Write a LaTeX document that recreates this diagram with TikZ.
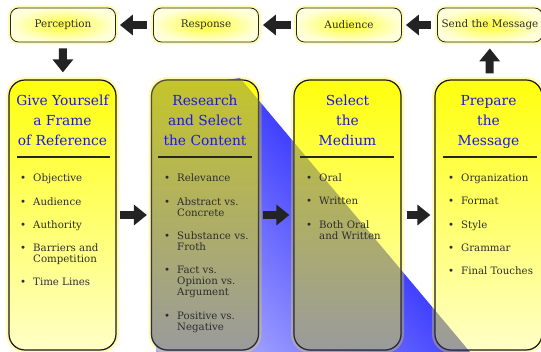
\documentclass[tikz,border=0pt]{standalone}
\usepackage{fontspec}
\setmainfont{DejaVu Serif}
\usetikzlibrary{positioning, arrows.meta}
\definecolor{headblue}{RGB}{25,25,235}
\definecolor{itemgray}{RGB}{45,45,45}
\definecolor{arrowgray}{RGB}{35,35,35}
\definecolor{dimtop}{RGB}{140,140,75}
\definecolor{dimbottom}{RGB}{55,55,115}
\tikzset{>=latex}

\tikzset{
  phase/.style={draw=black!85, line width=0.8pt, rounded corners=8pt,
    minimum width=105pt, minimum height=34pt, inner sep=0pt,
    inner color=yellow!80, outer color=yellow!15, text=itemgray,
    font=\fontsize{10.4}{12}\selectfont,
    preaction={draw=yellow, line width=5pt, draw opacity=0.3}},
  stage/.style={draw=black!90, line width=1.2pt, rounded corners=16pt,
    minimum width=107pt, minimum height=270pt, inner sep=0pt,
    top color=yellow!95!white, bottom color=yellow!22!white,
    preaction={draw=yellow, line width=6pt, draw opacity=0.3}},
  head/.style={text=headblue, align=center, inner sep=0pt, anchor=north,
    font=\fontsize{13.8}{20}\selectfont},
  items/.style={text=itemgray, inner sep=0pt, anchor=base west,
    font=\fontsize{10.2}{11}\selectfont},
  rule/.style={line width=2.6pt, black!85},
  band/.style={shading=axis, top color=blue, middle color=blue,
    bottom color=blue!35, shading angle=-50},
  dim/.style={top color=dimtop, bottom color=dimbottom, opacity=0.5},
  blockarrow/.style={arrowgray, line width=8pt,
    -{Triangle[length=13pt, width=20pt]}}
}

\begin{document}
\begin{tikzpicture}[x=1pt,y=-1pt]
\useasboundingbox (0,0) rectangle (541,352);

% the blue band behind the second and third stage
\shade[band] (156,90) -- (240,78) -- (470,352) -- (156,352) -- cycle;

% top row
\node[phase] (percep) at (63,25) {Perception};
\node[phase] (resp) at (206,25) {Response};
\node[phase] (aud) at (349,25) {Audience};
\node[phase] (send) at (490,25) {Send the Message};

% the four stages
\node[stage] (frame) at (62.5,215) {};
\node[stage] (content) at (205,215) {};
\node[stage] (medium) at (347.5,215) {};
\node[stage] (prep) at (488.5,215) {};

% band seen through the stages
\begin{scope}
  \clip[rounded corners=16pt] (content.north west) rectangle (content.south east)
    (medium.north west) rectangle (medium.south east)
    (prep.north west) rectangle (prep.south east);
  \shade[dim] (150,78) -- (240,78) -- (470,352) -- (150,352) -- cycle;
\end{scope}

% headings
\node[head] (h1) at (62.5,95) {Give Yourself\\a Frame\\of Reference};
\node[head] (h2) at (205,95) {Research\\and Select\\the Content};
\node[head] (h3) at (347.5,95) {Select\\the\\Medium};
\node[head] (h4) at (488.5,95) {Prepare\\the\\Message};

\draw[rule] (17,157) -- (110,157);
\draw[rule] (158,157) -- (252,157);
\draw[rule] (300,157) -- (394,157);
\draw[rule] (443,157) -- (537,157);

% bullet lists
\node[items] (l1) at (20,182) {\begin{tabular}[t]{@{}l@{\hspace{7pt}}l@{}}
\textbullet & Objective\\[12pt]
\textbullet & Audience\\[12pt]
\textbullet & Authority\\[12pt]
\textbullet & Barriers and\\
            & Competition\\[12pt]
\textbullet & Time Lines
\end{tabular}};
\node[items] (l2) at (164,182) {\begin{tabular}[t]{@{}l@{\hspace{7pt}}l@{}}
\textbullet & Relevance\\[12pt]
\textbullet & Abstract vs.\\
            & Concrete\\[12.5pt]
\textbullet & Substance vs.\\
            & Froth\\[12pt]
\textbullet & Fact vs.\\
            & Opinion vs.\\
            & Argument\\[12.5pt]
\textbullet & Positive vs.\\
            & Negative
\end{tabular}};
\node[items] (l3) at (306,182) {\begin{tabular}[t]{@{}l@{\hspace{7pt}}l@{}}
\textbullet & Oral\\[12pt]
\textbullet & Written\\[12pt]
\textbullet & Both Oral\\
            & and Written
\end{tabular}};
\node[items] (l4) at (448,182) {\begin{tabular}[t]{@{}l@{\hspace{7pt}}l@{}}
\textbullet & Organization\\[12pt]
\textbullet & Format\\[12pt]
\textbullet & Style\\[12pt]
\textbullet & Grammar\\[12pt]
\textbullet & Final Touches
\end{tabular}};

% arrows
\draw[blockarrow, shorten <=6pt, shorten >=4pt] (resp) -- (percep);
\draw[blockarrow, shorten <=5pt, shorten >=4pt] (aud) -- (resp);
\draw[blockarrow, shorten <=6pt, shorten >=4pt] (send) -- (aud);
\draw[blockarrow, shorten <=6pt, shorten >=7pt] (percep) -- (frame);
\draw[blockarrow, shorten <=6pt, shorten >=6pt] (prep) -- (send);
\draw[blockarrow, shorten <=3pt, shorten >=4pt] (frame) -- (content);
\draw[blockarrow, shorten <=4pt, shorten >=4pt] (content) -- (medium);
\draw[blockarrow, shorten <=5pt, shorten >=4pt] (medium) -- (prep);
\end{tikzpicture}
\end{document}
